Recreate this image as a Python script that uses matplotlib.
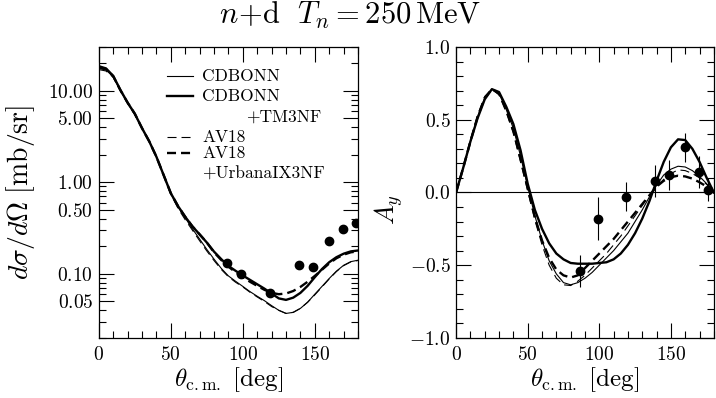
import matplotlib
matplotlib.use("Agg")
import matplotlib.pyplot as plt
import numpy as np

plt.rcParams['mathtext.fontset'] = 'cm'
plt.rcParams['font.family'] = ['cmr10', 'DejaVu Serif']
plt.rcParams['axes.unicode_minus'] = False
plt.rcParams['lines.scale_dashes'] = False

# angles (deg) where curves were read
theta = np.arange(0, 181, 5)

# d sigma / d Omega  [mb/sr]
xs_cdbonn = [17.5, 16.8, 14.2, 10.0, 7.3, 5.5, 3.9, 2.8, 1.9, 1.2, 0.75, 0.54, 0.41,
             0.31, 0.24, 0.185, 0.145, 0.115, 0.095, 0.083, 0.073, 0.064, 0.057, 0.051,
             0.045, 0.040, 0.037, 0.038, 0.042, 0.049, 0.060, 0.073, 0.089, 0.107,
             0.124, 0.136, 0.141]
xs_cdbonn_tm = [18.5, 17.5, 14.5, 10.2, 7.4, 5.6, 3.9, 2.8, 1.9, 1.2, 0.76, 0.55, 0.42,
                0.33, 0.27, 0.22, 0.175, 0.145, 0.122, 0.108, 0.096, 0.086, 0.077, 0.069,
                0.061, 0.054, 0.052, 0.055, 0.062, 0.074, 0.092, 0.113, 0.134, 0.152,
                0.166, 0.176, 0.180]
xs_av18 = [17.0, 16.4, 14.0, 10.0, 7.3, 5.5, 3.9, 2.8, 1.9, 1.2, 0.74, 0.52, 0.39,
           0.30, 0.23, 0.178, 0.140, 0.112, 0.093, 0.081, 0.072, 0.063, 0.056, 0.050,
           0.044, 0.040, 0.037, 0.038, 0.042, 0.049, 0.059, 0.072, 0.088, 0.106,
           0.123, 0.135, 0.140]
xs_av18_uix = [18.0, 17.2, 14.4, 10.1, 7.4, 5.6, 3.9, 2.8, 1.9, 1.2, 0.76, 0.55, 0.42,
               0.33, 0.27, 0.22, 0.172, 0.142, 0.120, 0.104, 0.092, 0.082, 0.074, 0.067,
               0.062, 0.060, 0.061, 0.065, 0.072, 0.082, 0.095, 0.111, 0.130, 0.148,
               0.162, 0.172, 0.176]

xs_data_th = [88.7, 98.8, 118.8, 138.8, 149.0, 159.6, 169.6, 178.5]
xs_data = [0.13, 0.10, 0.062, 0.125, 0.12, 0.23, 0.31, 0.36]

# analyzing power A_y
ay_cdbonn = [0.0, 0.17, 0.35, 0.52, 0.65, 0.71, 0.68, 0.57, 0.44, 0.25, 0.04, -0.16, -0.33,
             -0.47, -0.56, -0.62, -0.635, -0.62, -0.59, -0.55, -0.50, -0.45, -0.40, -0.34,
             -0.28, -0.20, -0.12, -0.03, 0.05, 0.12, 0.16, 0.18, 0.175, 0.15, 0.11, 0.06, 0.0]
ay_cdbonn_tm = [0.0, 0.17, 0.35, 0.51, 0.64, 0.71, 0.69, 0.59, 0.47, 0.29, 0.06, -0.12, -0.25,
                -0.35, -0.42, -0.46, -0.485, -0.49, -0.49, -0.49, -0.485, -0.48, -0.46, -0.42,
                -0.36, -0.28, -0.18, -0.06, 0.08, 0.21, 0.31, 0.365, 0.36, 0.30, 0.21, 0.10, 0.0]
ay_av18 = [0.0, 0.18, 0.36, 0.53, 0.66, 0.71, 0.67, 0.55, 0.41, 0.21, 0.01, -0.19, -0.36,
           -0.50, -0.59, -0.635, -0.64, -0.61, -0.57, -0.52, -0.47, -0.42, -0.36, -0.30,
           -0.23, -0.16, -0.09, -0.02, 0.04, 0.09, 0.13, 0.155, 0.15, 0.13, 0.10, 0.055, 0.0]
ay_av18_uix = [0.0, 0.17, 0.35, 0.52, 0.65, 0.71, 0.68, 0.57, 0.42, 0.23, 0.03, -0.17, -0.33,
               -0.45, -0.53, -0.57, -0.585, -0.57, -0.52, -0.47, -0.42, -0.37, -0.32, -0.26,
               -0.20, -0.14, -0.08, -0.02, 0.04, 0.08, 0.105, 0.115, 0.11, 0.095, 0.07, 0.04, 0.0]

ay_data_th = [86.4, 98.8, 118.9, 138.8, 148.8, 159.8, 169.5, 176.2]
ay_data = [-0.54, -0.18, -0.03, 0.08, 0.12, 0.31, 0.14, 0.02]
ay_err = [0.11, 0.15, 0.10, 0.11, 0.10, 0.10, 0.11, 0.08]

thin = 0.8
thick = 1.7
dash = (6.5, 3.6)

fig = plt.figure(figsize=(7.16, 3.98), dpi=100)
ax1 = fig.add_axes([0.138, 0.151, 0.362, 0.731])
ax2 = fig.add_axes([0.637, 0.151, 0.360, 0.731])

# ---- cross section
ax1.plot(theta, xs_cdbonn, 'k-', lw=thin)
ax1.plot(theta, xs_cdbonn_tm, 'k-', lw=thick)
ax1.plot(theta, xs_av18, 'k--', lw=thin, dashes=dash)
ax1.plot(theta, xs_av18_uix, 'k--', lw=thick, dashes=dash)
ax1.plot(xs_data_th, xs_data, 'ko', ms=6)
ax1.set_yscale('log')
ax1.set_xlim(0, 180)
ax1.set_ylim(0.02, 30)
ax1.set_yticks([0.05, 0.1, 0.5, 1, 5, 10])
ax1.set_yticklabels([r'$0.05$', r'$0.10$', r'$0.50$', r'$1.00$', r'$5.00$', r'$10.00$'])
minor = [m * d for d in (0.01, 0.1, 1, 10) for m in range(2, 10)]
minor = [v for v in minor if 0.02 <= v <= 30 and v not in (0.05, 0.5, 5)]
ax1.set_yticks(minor, minor=True)
ax1.set_yticklabels([], minor=True)
ax1.set_ylabel(r'$d\sigma/d\Omega\ [\mathrm{mb/sr}]$', fontsize=20)
ax1.yaxis.set_label_coords(-0.24, 0.5)

# legend drawn by hand
leg = [(0.90, thin, 'CDBONN', None), (0.83, thick, 'CDBONN', None),
       (0.69, thin, 'AV18', dash), (0.635, thick, 'AV18', dash)]
for y, lw, lab, d in leg:
    if d is None:
        ax1.plot([0.263, 0.363], [y, y], 'k-', lw=lw, transform=ax1.transAxes)
    else:
        ax1.plot([0.263, 0.363], [y, y], 'k--', lw=lw, dashes=d, transform=ax1.transAxes)
    ax1.text(0.40, y, lab, transform=ax1.transAxes, va='center', fontsize=12.5)
ax1.text(0.57, 0.76, '+TM3NF', transform=ax1.transAxes, va='center', fontsize=12.5)
ax1.text(0.40, 0.565, '+UrbanaIX3NF', transform=ax1.transAxes, va='center', fontsize=12.5)

# ---- analyzing power
ax2.axhline(0, color='k', lw=0.8)
ax2.plot(theta, ay_cdbonn, 'k-', lw=thin)
ax2.plot(theta, ay_cdbonn_tm, 'k-', lw=thick)
ax2.plot(theta, ay_av18, 'k--', lw=thin, dashes=dash)
ax2.plot(theta, ay_av18_uix, 'k--', lw=thick, dashes=dash)
ax2.errorbar(ay_data_th, ay_data, yerr=ay_err, fmt='ko', ms=6, elinewidth=0.8, capsize=0)
ax2.set_xlim(0, 180)
ax2.set_ylim(-1, 1)
ax2.set_yticks([-1, -0.5, 0, 0.5, 1])
ax2.set_yticklabels([r'$-1.0$', r'$-0.5$', r'$0.0$', r'$0.5$', r'$1.0$'])
ax2.set_yticks(np.arange(-1, 1.01, 0.1), minor=True)
ax2.set_ylabel(r'$A_y$', fontsize=19)
ax2.yaxis.set_label_coords(-0.198, 0.44)

for ax in (ax1, ax2):
    ax.set_xticks([0, 50, 100, 150])
    ax.set_xticklabels([r'$0$', r'$50$', r'$100$', r'$150$'])
    ax.set_xticks(np.arange(0, 181, 10), minor=True)
    ax.tick_params(which='both', direction='in', top=True, right=True, labelsize=14)
    ax.tick_params(axis='x', pad=6)
    ax.tick_params(axis='y', pad=4)
    ax.tick_params(which='major', length=11, width=0.8)
    ax.tick_params(which='minor', length=5, width=0.8)
    ax.set_xlabel(r'$\theta_{\rm c.m.}\ [\rm deg]$', fontsize=18)
    ax.xaxis.set_label_coords(0.5, -0.095)
    for s in ax.spines.values():
        s.set_linewidth(0.9)

fig.text(0.489, 0.962, r'$n\!+\!\mathrm{d}\ \ T_n = 250\,\mathrm{MeV}$', ha='center', va='center',
         fontsize=22)

fig.savefig('out.png', dpi=100)
